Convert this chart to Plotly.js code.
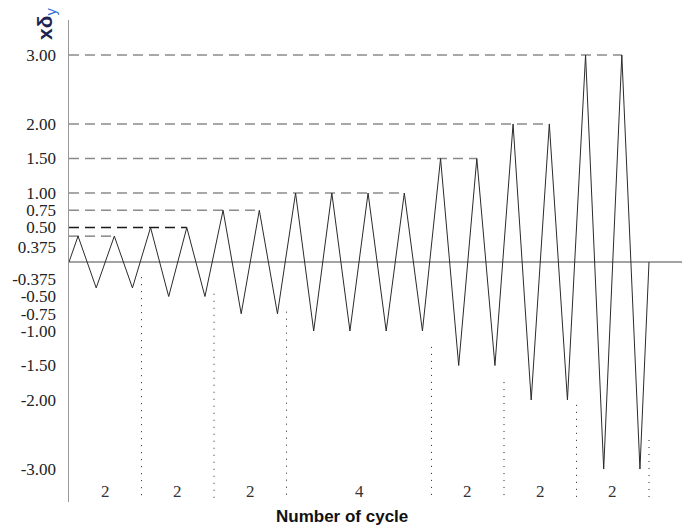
<!DOCTYPE html>
<html>
<head>
<meta charset="utf-8">
<script src="https://cdn.plot.ly/plotly-3.0.1.min.js"></script>
<style>html,body{margin:0;padding:0;background:#fff;}#chart{width:682px;height:526px;}</style>
</head>
<body>
<div id="chart"></div>
<script>
// ---- data ----
// amplitude (x delta_y) of each of the 16 cycles
const cycleAmplitudes = [0.375, 0.375, 0.5, 0.5, 0.75, 0.75, 1, 1, 1, 1, 1.5, 1.5, 2, 2, 3, 3];
// groups of cycles: boundaries (in cycle units) and number of cycles per group
const groupBounds = [0, 2, 4, 6, 10, 12, 14, 16];
const groupCounts = ["2", "2", "2", "4", "2", "2", "2"];
// dotted separator lines: top value at each boundary (after first)
const sepTops = [-0.22, -0.46, -0.72, -1.23, -1.74, -2.07, -2.58];
const sepBottom = -3.43;
// dashed reference levels and the cycle position where each ends
const dashLevels = [3, 2, 1.5, 1, 0.75, 0.5, 0.375];
const dashEnds = [15.25, 13.25, 11.25, 9.25, 5.25, 3.25, 1.25];
const dashColors = ["#8a8a8a", "#8a8a8a", "#8a8a8a", "#8a8a8a", "#8a8a8a", "#1a1a1a", "#707070"];
// y tick labels
const tickText = ["3.00", "2.00", "1.50", "1.00", "0.75", "0.50", "0.375", "-0.375", "-0.50", "-0.75", "-1.00", "-1.50", "-2.00", "-3.00"];
const tickPos = [3, 2, 1.5, 1, 0.75, 0.5, 0.22, -0.25, -0.5, -0.75, -1, -1.5, -2, -3];

const SERIF = "'Liberation Serif', 'Times New Roman', Times, serif";

// ---- build the loading history ----
const histX = [0], histY = [0];
cycleAmplitudes.forEach((a, k) => {
  histX.push(k + 0.25); histY.push(a);
  histX.push(k + 0.75); histY.push(-a);
});
histX.push(cycleAmplitudes.length); histY.push(0);

const traces = [];
dashLevels.forEach((lv, i) => {
  traces.push({
    x: [0, dashEnds[i]], y: [lv, lv], mode: 'lines', hoverinfo: 'skip',
    line: {color: dashColors[i], width: 1.3, dash: '10px,6px'}
  });
});
groupBounds.slice(1).forEach((b, i) => {
  traces.push({
    x: [b, b], y: [sepTops[i], sepBottom], mode: 'lines', hoverinfo: 'skip',
    line: {color: '#222', width: 1, dash: '1px,6px'}
  });
});
traces.push({
  x: histX, y: histY, mode: 'lines', hoverinfo: 'skip',
  line: {color: '#2a2a2a', width: 1}
});

const annotations = groupCounts.map((c, i) => ({
  x: (groupBounds[i] + groupBounds[i + 1]) / 2, y: -3.33, xref: 'x', yref: 'y',
  text: c, showarrow: false,
  font: {family: SERIF, size: 17, color: '#333'}
}));
annotations.push({
  xref: 'paper', yref: 'paper', x: 0.445, y: -0.0, yshift: -14, yanchor: 'middle',
  text: '<b>Number of cycle</b>', showarrow: false,
  font: {family: "'Liberation Sans', Arial, sans-serif", size: 17, color: '#111'}
});
annotations.push({
  xref: 'paper', yref: 'paper', x: 0, y: 1, xshift: -23, yshift: -4, xanchor: 'center', yanchor: 'middle',
  text: '<b>xδ</b><sub><span style="color:#2f6fd0">y</span></sub>', showarrow: false, textangle: -90,
  font: {family: "'Liberation Sans', Arial, sans-serif", size: 21, color: '#1c2552'}
});

const layout = {
  width: 682, height: 526,
  margin: {l: 69, r: 0, t: 20, b: 24},
  paper_bgcolor: '#fff', plot_bgcolor: '#fff',
  showlegend: false,
  xaxis: {range: [0, 16.91], visible: false, showgrid: false, zeroline: false, fixedrange: true},
  yaxis: {
    range: [-3.478, 3.507], showgrid: false,
    zeroline: true, zerolinecolor: '#a3a3a3', zerolinewidth: 2,
    showline: true, linecolor: '#999', linewidth: 1.5,
    tickmode: 'array', tickvals: tickPos, ticktext: tickText,
    ticks: '', ticklabelstandoff: 8,
    tickfont: {family: SERIF, size: 17, color: '#222'}
  },
  annotations: annotations
};

Plotly.newPlot('chart', traces, layout, {displayModeBar: false, staticPlot: true});
</script>
</body>
</html>
